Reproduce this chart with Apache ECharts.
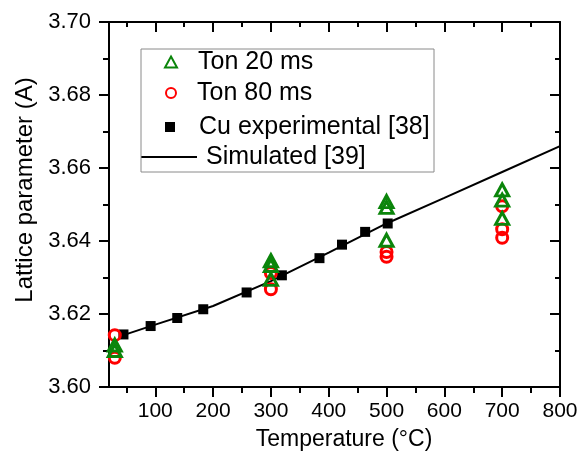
<!DOCTYPE html>
<html>
<head>
<meta charset="utf-8">
<script src="https://cdn.jsdelivr.net/npm/echarts@6/dist/echarts.min.js"></script>
<style>html,body{margin:0;padding:0;background:#fff}#c{width:581px;height:461px}</style>
</head>
<body>
<div id="c"></div>
<script>
// ---- data ----
const cuT   = [45, 92, 138, 183, 258, 319, 384, 423, 463, 502];
const cuA   = [3.6144, 3.6167, 3.6189, 3.6213, 3.6259, 3.6306, 3.6353, 3.6390, 3.6425, 3.6448];
const simT  = [45, 100, 200, 300, 400, 500, 600, 700, 800];
const simA  = [3.6142, 3.6171, 3.6222, 3.6290, 3.6368, 3.6448, 3.6518, 3.6589, 3.6660];
const ton20T = [30, 30, 300, 300, 300, 500, 500, 500, 700, 700, 700];
const ton20A = [3.6115, 3.6100, 3.6346, 3.6333, 3.6295, 3.6508, 3.6492, 3.6402, 3.6540, 3.6512, 3.6462];
const ton80T = [30, 30, 300, 300, 500, 500, 700, 700, 700];
const ton80A = [3.6142, 3.6080, 3.6312, 3.6268, 3.6370, 3.6357, 3.6495, 3.6432, 3.6409];
const xMajor = [100, 200, 300, 400, 500, 600, 700, 800];
const xMinor = [50, 150, 250, 350, 450, 550, 650, 750];
const names = ['Ton 20 ms', 'Ton 80 ms', 'Cu experimental [38]', 'Simulated [39]'];

const zip = (a, b) => a.map((v, i) => [v, b[i]]);
const FONT = '"Liberation Sans", Arial, sans-serif';
const black = '#000';
const GREEN = '#0b850b';
const RED = '#ff0000';

const baseX = {min: 20, max: 800, type: 'value', splitLine: {show: false}};
const legText = (padLeft) => ({fontSize: 25, lineHeight: 26, color: black, fontFamily: FONT, padding: [0, 0, 0, padLeft]});
const chart = echarts.init(document.getElementById('c'));
chart.setOption({
  animation: false,
  grid: {left: 109, right: 21, top: 22, bottom: 74},
  xAxis: [
    Object.assign({}, baseX, {
      position: 'bottom',
      axisLine: {show: true, lineStyle: {color: black, width: 2}},
      axisTick: {show: true, inside: false, length: 10, lineStyle: {color: black, width: 2}, customValues: xMajor},
      axisLabel: {show: true, margin: 14, fontSize: 21, color: black, fontFamily: FONT, customValues: xMajor}
    }),
    Object.assign({}, baseX, {
      position: 'bottom',
      axisLine: {show: false},
      axisTick: {show: true, inside: false, length: 6, lineStyle: {color: black, width: 2}, customValues: xMinor},
      axisLabel: {show: false}
    }),
    Object.assign({}, baseX, {
      position: 'top',
      axisLine: {show: true, lineStyle: {color: black, width: 2}},
      axisTick: {show: true, inside: true, length: 10, lineStyle: {color: black, width: 2}, customValues: xMajor},
      axisLabel: {show: false}
    }),
    Object.assign({}, baseX, {
      position: 'top',
      axisLine: {show: false},
      axisTick: {show: true, inside: true, length: 5, lineStyle: {color: black, width: 2}, customValues: xMinor},
      axisLabel: {show: false}
    })
  ],
  yAxis: [
    {
      type: 'value', min: 3.60, max: 3.70, interval: 0.02, position: 'left',
      splitLine: {show: false},
      axisLine: {show: true, lineStyle: {color: black, width: 2}},
      axisTick: {show: true, inside: false, length: 10, lineStyle: {color: black, width: 2}},
      minorTick: {show: true, splitNumber: 2, length: 6, lineStyle: {color: black, width: 2}},
      axisLabel: {margin: 18, fontSize: 22, color: black, fontFamily: FONT, formatter: v => v.toFixed(2)}
    },
    {
      type: 'value', min: 3.60, max: 3.70, interval: 0.02, position: 'right',
      splitLine: {show: false},
      axisLine: {show: true, lineStyle: {color: black, width: 2}},
      axisTick: {show: true, inside: true, length: 10, lineStyle: {color: black, width: 2}},
      minorTick: {show: true, splitNumber: 2, length: 5, lineStyle: {color: black, width: 2}},
      axisLabel: {show: false}
    }
  ],
  legend: [
    {data: [names[0]], left: 164, top: 49, padding: 0, itemWidth: 12, itemHeight: 11, selectedMode: false,
     textStyle: legText(16)},
    {data: [names[1]], left: 165, top: 80, padding: 0, itemWidth: 10, itemHeight: 10, selectedMode: false,
     textStyle: legText(16)},
    {data: [names[2]], left: 165, top: 114, padding: 0, itemWidth: 10, itemHeight: 10, selectedMode: false,
     textStyle: legText(19)},
    {data: [{name: names[3], icon: 'rect'}], left: 141, top: 144, padding: 0, itemWidth: 56, itemHeight: 2, selectedMode: false,
     textStyle: legText(4)}
  ],
  graphic: [
    {type: 'rect', shape: {x: 141, y: 49, width: 293, height: 123}, style: {fill: 'none', stroke: '#8a8a8a', lineWidth: 1}, z: 100},
    {type: 'text', x: 25, y: 190, rotation: Math.PI / 2,
     style: {text: 'Lattice parameter (A)', font: '24px ' + FONT, fill: black, textAlign: 'center', textVerticalAlign: 'middle'}},
    {type: 'text', x: 344, y: 440,
     style: {text: 'Temperature (°C)', font: '23px ' + FONT, fill: black, textAlign: 'center', textVerticalAlign: 'middle'}}
  ],
  series: [
    {name: names[3], type: 'line', data: zip(simT, simA), symbol: 'none', smooth: false,
     lineStyle: {color: black, width: 2}, itemStyle: {color: black}, z: 1},
    {name: names[2], type: 'scatter', data: zip(cuT, cuA), symbol: 'rect', symbolSize: 10,
     itemStyle: {color: black, opacity: 1}, z: 2},
    {name: names[1], type: 'scatter', data: zip(ton80T, ton80A), symbol: 'circle', symbolSize: 11,
     itemStyle: {color: 'rgba(0,0,0,0)', borderColor: RED, borderWidth: 3, opacity: 1}, z: 3},
    {name: names[0], type: 'scatter', data: zip(ton20T, ton20A), symbol: 'triangle', symbolSize: [13, 12],
     itemStyle: {color: 'rgba(0,0,0,0)', borderColor: GREEN, borderWidth: 3, opacity: 1}, z: 4}
  ]
});
</script>
</body>
</html>
